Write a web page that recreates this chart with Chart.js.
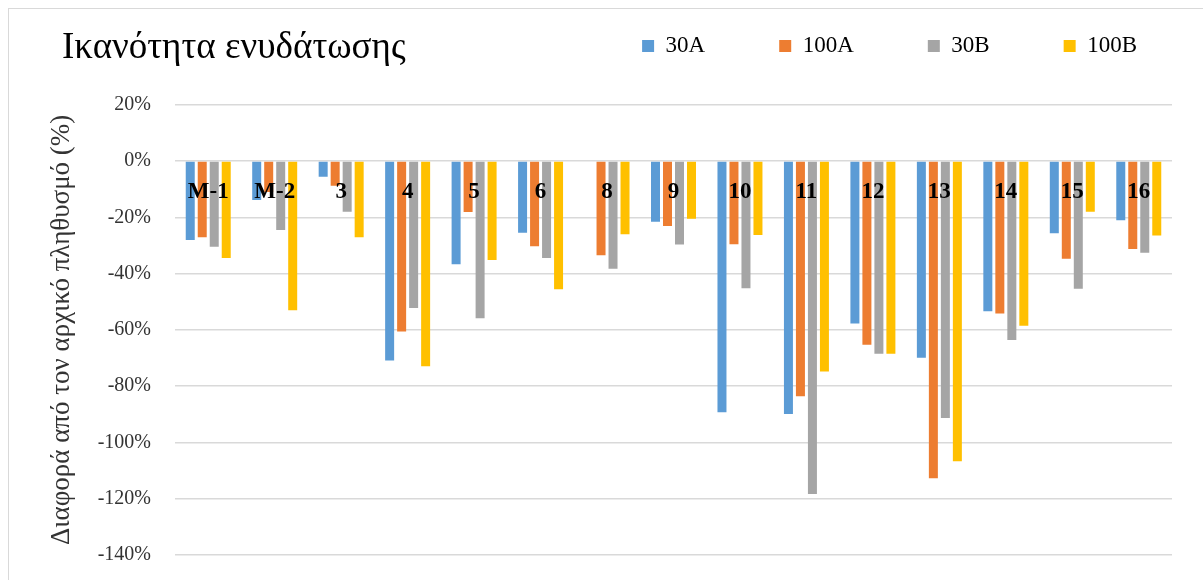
<!DOCTYPE html>
<html>
<head>
<meta charset="utf-8">
<script src="https://cdn.jsdelivr.net/npm/chart.js@4.4.1/dist/chart.umd.min.js"></script>
<style>
  html, body { margin: 0; padding: 0; background: #fff; overflow: hidden; }
  #wrap { position: relative; width: 1203px; height: 580px; overflow: hidden; }
  #frame { position: absolute; left: 8px; top: 8px; width: 1400px; height: 800px; border: 1.5px solid #d9d9d9; box-sizing: border-box; }
  canvas { position: absolute; left: 0; top: 0; }
</style>
</head>
<body>
<div id="wrap"><div id="frame"></div><canvas id="c" width="1203" height="580"></canvas></div>
<script>
const chartTitle = 'Ικανότητα ενυδάτωσης';
const yAxisTitle = 'Διαφορά από τον αρχικό πληθυσμό (%)';
const categories = ['M-1', 'M-2', '3', '4', '5', '6', '8', '9', '10', '11', '12', '13', '14', '15', '16'];
const seriesNames = ['30A', '100A', '30B', '100B'];
const values30A  = [-28.1, -13.9, -5.6, -70.9, -36.7, -25.5, null, -21.6, -89.3, -89.9, -57.7, -69.9, -53.4, -25.7, -21.1];
const values100A = [-27.1, -11.0, -8.8, -60.6, -18.1, -30.3, -33.5, -23.1, -29.6, -83.6, -65.3, -112.7, -54.2, -34.7, -31.3];
const values30B  = [-30.5, -24.5, -18.0, -52.2, -55.9, -34.5, -38.3, -29.7, -45.2, -118.3, -68.5, -91.3, -63.6, -45.4, -32.6];
const values100B = [-34.5, -53.0, -27.1, -72.9, -35.2, -45.6, -26.0, -20.5, -26.3, -74.8, -68.5, -106.7, -58.5, -18.0, -26.5];
const yTickValues = [20, 0, -20, -40, -60, -80, -100, -120, -140];

const seriesValues = [values30A, values100A, values30B, values100B];
const seriesColors = ['#5B9BD5', '#ED7D31', '#A5A5A5', '#FFC000'];
const serif = "'Liberation Serif', 'Times New Roman', serif";

const titlePlugin = {
  id: 'chartTitleText',
  afterDraw(chart) {
    const c = chart.ctx;
    c.save();
    c.font = '37px ' + serif;
    c.fillStyle = '#000';
    c.textAlign = 'left';
    c.textBaseline = 'alphabetic';
    c.fillText(chartTitle, 62, 58);
    c.restore();
  }
};

new Chart(document.getElementById('c'), {
  type: 'bar',
  data: {
    labels: categories,
    datasets: seriesNames.map((name, i) => ({
      label: name,
      data: seriesValues[i],
      backgroundColor: seriesColors[i],
      borderWidth: 0,
      categoryPercentage: 0.722,
      barPercentage: 0.75
    }))
  },
  options: {
    responsive: false,
    animation: false,
    devicePixelRatio: 1,
    layout: { padding: { top: -39.5, right: -8, bottom: 25, left: 0 } },
    plugins: {
      legend: {
        position: 'top',
        align: 'end',
        labels: {
          font: { family: serif, size: 23 },
          color: '#000',
          boxWidth: 12,
          boxHeight: 12,
          padding: 74
        }
      },
      title: { display: false },
      tooltip: { enabled: false }
    },
    scales: {
      x: {
        axis: 'x',
        type: 'category',
        position: { y: 0 },
        grid: { display: false },
        border: { display: false },
        ticks: {
          font: { family: serif, size: 23, weight: 'bold' },
          color: '#000',
          padding: 9,
          z: 1,
          maxRotation: 0,
          autoSkip: false
        }
      },
      xTop: {
        axis: 'x',
        type: 'linear',
        position: 'top',
        display: true,
        grid: { display: false },
        border: { display: false },
        ticks: { display: false },
        afterFit: s => { s.height = 37.2; }
      },
      y: {
        position: 'left',
        min: -140,
        max: 20,
        grid: { color: '#d9d9d9', lineWidth: 1.5, drawTicks: true, tickLength: 24, tickColor: 'rgba(0,0,0,0)' },
        border: { display: false },
        afterBuildTicks: s => { s.ticks = yTickValues.map(v => ({ value: v })); },
        ticks: {
          font: { family: serif, size: 20 },
          color: '#333',
          padding: 0,
          callback: v => v + '%'
        },
        title: {
          display: true,
          text: yAxisTitle,
          font: { family: serif, size: 27 },
          color: '#333',
          padding: { top: 46, bottom: 0 }
        },
        afterFit: s => { s.width = 175; }
      },
      yRight: {
        axis: 'y',
        type: 'linear',
        position: 'right',
        display: true,
        grid: { display: false },
        border: { display: false },
        ticks: { display: false },
        afterFit: s => { s.width = 39; }
      }
    }
  },
  plugins: [titlePlugin]
});
</script>
</body>
</html>
